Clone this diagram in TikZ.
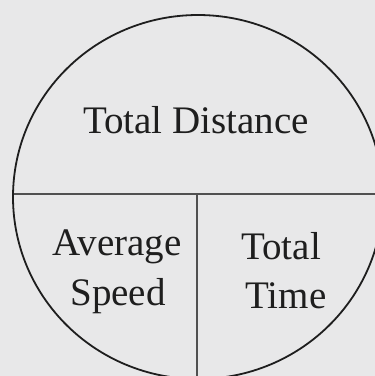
\documentclass[tikz,border=0pt]{standalone}
\usepackage{fontspec}
\setmainfont{Liberation Serif}
\usepackage{tikz}
\usetikzlibrary{positioning}
\definecolor{bgx}{HTML}{E8E8E9}
\definecolor{inkx}{HTML}{1E1E1E}
\definecolor{rulex}{HTML}{505050}
\tikzset{
  rim/.style={draw=inkx,line width=1.8pt},
  cut/.style={draw=rulex,line width=2.4pt},
  lbl/.style={text=inkx,inner sep=0pt,anchor=base,font=\fontsize{39}{47}\selectfont}
}
\begin{document}
\begin{tikzpicture}[x=1pt,y=-1pt]
\fill[bgx] (0,0) rectangle (375,376);
\useasboundingbox (0,0) rectangle (375,376);
\clip (0,0) rectangle (375,376);
\coordinate (o) at (198,197);
\coordinate (l) at (0,194);
\coordinate (r) at (400,194);
\coordinate (m) at (197,194);
\coordinate (b) at (197,400);
% the two cuts stay inside the round
\begin{scope}
\clip (o) ellipse [x radius=185,y radius=182];
\draw[cut] (l) -- (r);
\draw[cut] (m) -- (b);
\end{scope}
\draw[rim] (o) ellipse [x radius=185,y radius=182];
\node[lbl] (dist) at (196,133) {Total Distance};
\node[lbl] (avg) at (117,255) {Average};
\node[lbl] (spd) at (118,305) {Speed};
\node[lbl] (tot) at (281,259) {Total};
\node[lbl] (tim) at (286,308) {Time};
\end{tikzpicture}
\end{document}
